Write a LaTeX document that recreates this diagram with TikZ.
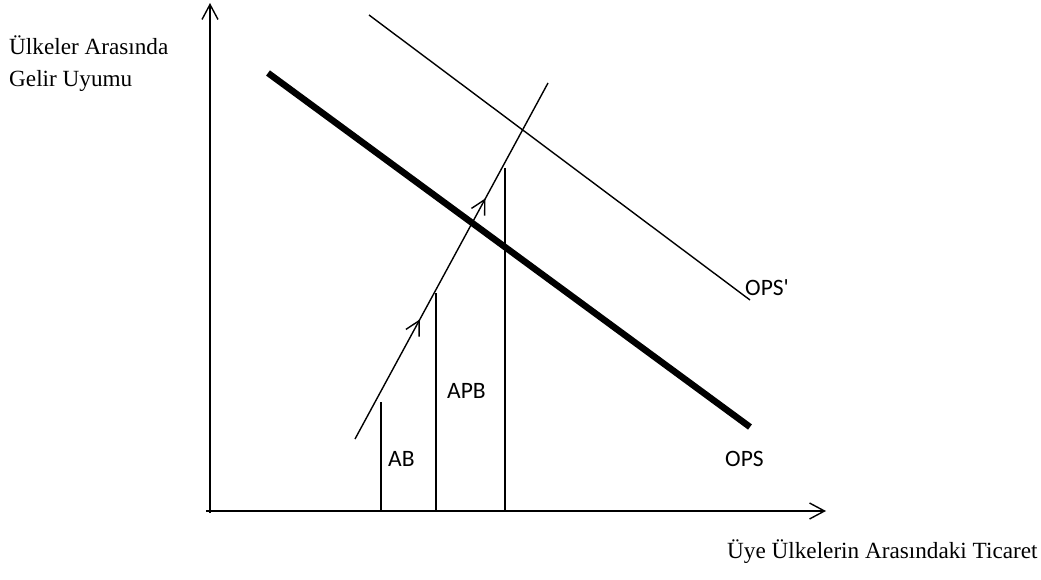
\documentclass[tikz,border=0pt]{standalone}
\usepackage{fontspec}
\setmainfont{Liberation Serif}
\newfontfamily\calibfont{Carlito}
\usetikzlibrary{arrows.meta,decorations.markings}
\begin{document}
\begin{tikzpicture}[x=1pt,y=-1pt,
  thinline/.style={line width=1.4pt},
  axisline/.style={line width=1.4pt,-{Straight Barb[length=15pt,width=16pt]}},
  thickline/.style={line width=6.5pt},
  midarrows/.style={thinline,decoration={markings,
      mark=at position 0.336 with {\arrow{Straight Barb[length=14pt,width=15pt]}},
      mark=at position 0.676 with {\arrow{Straight Barb[length=14pt,width=15pt]}}},
    postaction={decorate}},
  seriflabel/.style={font=\fontsize{23.2}{27}\selectfont, inner sep=0pt, anchor=base west},
  sanslabel/.style={font=\calibfont\fontsize{23.5}{27}\selectfont, inner sep=0pt, anchor=base west}]
\useasboundingbox (0,0) rectangle (1041,580);
% axes
\coordinate (ybot) at (210,513);
\coordinate (ytip) at (210,3);
\coordinate (xleft) at (206,511);
\coordinate (xtip) at (826,511);
\draw[axisline] (ybot) -- (ytip);
\draw[axisline] (xleft) -- (xtip);
% OPS lines
\coordinate (opsA) at (268,73);
\coordinate (opsB) at (750,427);
\draw[thickline] (opsA) -- (opsB);
\coordinate (opspA) at (369,15);
\coordinate (opspB) at (750,300);
\draw[thinline] (opspA) -- (opspB);
% growth path
\coordinate (gA) at (355,439);
\coordinate (gB) at (548,83);
\draw[midarrows] (gA) -- (gB);
% verticals
\coordinate (v1t) at (381,402);
\coordinate (v1b) at (381,512);
\coordinate (v2t) at (436,293);
\coordinate (v2b) at (436,511);
\coordinate (v3t) at (505,168);
\coordinate (v3b) at (505,511);
\draw[thinline] (v1t) -- (v1b);
\draw[thinline] (v2t) -- (v2b);
\draw[thinline] (v3t) -- (v3b);
% labels
\node[seriflabel] (ylab1) at (9,55) {Ülkeler Arasında};
\node[seriflabel] (ylab2) at (9,87) {Gelir Uyumu};
\node[seriflabel] (xlab) at (727,558) {Üye Ülkelerin Arasındaki Ticaret};
\node[sanslabel] (ab) at (388,466) {AB};
\node[sanslabel] (apb) at (447,398) {APB};
\node[sanslabel] (ops) at (725,466) {OPS};
\node[sanslabel] (opsp) at (745,295) {OPS'};
\end{tikzpicture}
\end{document}
